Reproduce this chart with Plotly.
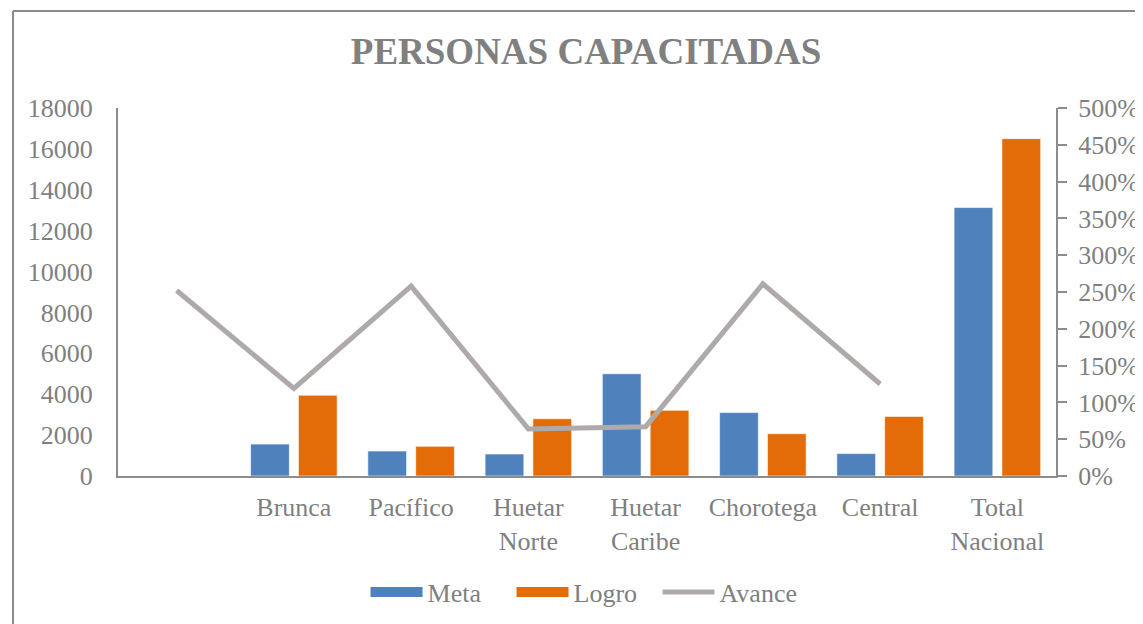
import plotly.graph_objects as go

# ---- data ----
categories = ["", "Brunca", "Pacífico", "Huetar<br>Norte", "Huetar<br>Caribe",
              "Chorotega", "Central", "Total<br>Nacional"]
meta = [None, 1560, 1220, 1075, 5000, 3100, 1095, 13130]
logro = [None, 3950, 1450, 2800, 3210, 2070, 2915, 16500]
avance = [252, 119, 258, 64, 67, 261, 125, None]  # percent
y_ticks = list(range(0, 18001, 2000))
y2_ticks = list(range(0, 501, 50))
y2_labels = [f"{v}%" for v in y2_ticks]

W, H = 1143, 624
OX, OY = 7, 8  # page offset of the rendered figure
L, R, T, B = 117 - OX, 86, 108 - OY, H - (476 - OY)
pw, ph = W - L - R, H - T - B

FONT = "Liberation Serif"
TXT = "#7f7f7f"
AX = "#8c8c8c"
xs = list(range(len(categories)))

fig = go.Figure()
fig.add_trace(go.Bar(x=xs, y=meta, name="Meta", marker_color="#4F81BD",
                     marker_line=dict(color="rgba(255,255,255,0.6)", width=1),
                     showlegend=False))
fig.add_trace(go.Bar(x=xs, y=logro, name="Logro", marker_color="#E36C09",
                     marker_line=dict(color="rgba(255,255,255,0.6)", width=1),
                     showlegend=False))
fig.add_trace(go.Scatter(x=xs, y=avance, name="Avance", mode="lines",
                         line=dict(color="#AEAAA9", width=5), yaxis="y2",
                         showlegend=False))
# legend entries
fig.add_trace(go.Scatter(x=[None], y=[None], mode="lines", name="Meta",
                         line=dict(color="#4F81BD", width=14)))
fig.add_trace(go.Scatter(x=[None], y=[None], mode="lines", name="Logro",
                         line=dict(color="#E36C09", width=14)))
fig.add_trace(go.Scatter(x=[None], y=[None], mode="lines", name="Avance",
                         line=dict(color="#AEAAA9", width=5)))

fig.update_layout(
    width=W, height=H,
    margin=dict(l=L, r=R, t=T, b=B, pad=0),
    paper_bgcolor="white", plot_bgcolor="white",
    font=dict(family=FONT, size=26, color=TXT),
    barmode="group", bargap=0.184, bargroupgap=0.19,
    title=dict(text="<b>PERSONAS CAPACITADAS</b>", x=(585 - OX) / W, xanchor="center",
               y=1 - (51 - OY) / H, yanchor="middle", yref="container",
               font=dict(family=FONT, size=37, color="#808080")),
    xaxis=dict(range=[-0.5, len(categories) - 0.5], tickmode="array",
               tickvals=xs, ticktext=categories, showline=True, linecolor=AX,
               linewidth=2, ticks="", showgrid=False, zeroline=False,
               ticklabelstandoff=7, tickfont=dict(size=26, color=TXT)),
    yaxis=dict(range=[0, 18000], tickmode="array", tickvals=y_ticks,
               ticktext=[str(v) for v in y_ticks],
               showline=True, linecolor=AX, linewidth=2, ticks="",
               showgrid=False, zeroline=False, ticklabelstandoff=18,
               tickfont=dict(size=26, color=TXT)),
    yaxis2=dict(range=[0, 500], overlaying="y", side="right", tickmode="array",
                tickvals=y2_ticks, ticktext=y2_labels, showline=True, linecolor=AX,
                linewidth=2, ticks="outside", ticklen=9, tickcolor=AX,
                tickwidth=2, showgrid=False, zeroline=False,
                ticklabelstandoff=6, tickfont=dict(size=26, color=TXT)),
    legend=dict(orientation="h", x=0.5 + (588 - OX - (L + pw / 2)) / pw, xanchor="center",
                y=(476 - 592) / ph, yanchor="middle", itemwidth=52,
                entrywidth=79, entrywidthmode="pixels",
                font=dict(size=26, color=TXT), traceorder="normal",
                bgcolor="rgba(0,0,0,0)"),
)

# chart frame (outer border)
fy = (T + ph - (11 - OY)) / ph
fx = ((11 - OX) - L) / pw
fig.add_shape(type="line", xref="paper", yref="paper",
              x0=fx, x1=(W - L) / pw, y0=fy, y1=fy,
              line=dict(color="#8a8a8a", width=2))
fig.add_shape(type="line", xref="paper", yref="paper",
              x0=fx, x1=fx, y0=fy, y1=(T + ph - H) / ph,
              line=dict(color="#8a8a8a", width=2))

fig.write_html("out.html")
